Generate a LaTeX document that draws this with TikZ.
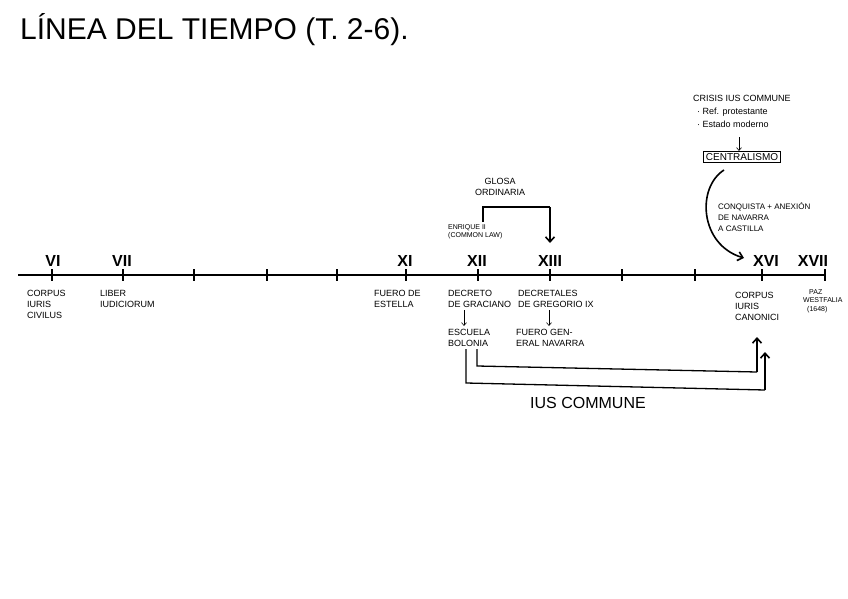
\documentclass[tikz,border=0pt]{standalone}
\usepackage{fontspec}
\setmainfont{Liberation Sans}
\usetikzlibrary{arrows.meta}
\begin{document}
\begin{tikzpicture}[x=1pt,y=-1pt,
  titletext/.style={font=\fontsize{30}{32}\selectfont, inner sep=0pt},
  cent/.style={font=\fontsize{16}{18}\selectfont\bfseries, inner sep=0pt},
  lab/.style={font=\fontsize{9}{11}\selectfont, inner sep=0pt, align=left, anchor=north west},
  small/.style={font=\fontsize{7}{8.5}\selectfont, inner sep=0pt, align=left, anchor=north west},
  axis/.style={line width=1.6pt},
  tickmark/.style={line width=1.2pt},
  conn/.style={line width=1.3pt},
  thinarrow/.style={line width=0.6pt,-{Straight Barb[length=3pt,width=5pt]}},
  bigarrow/.style={line width=1.6pt,-{Straight Barb[length=5pt,width=9pt]}}
]
\useasboundingbox (0,0) rectangle (848,599);

% title
\node[titletext, anchor=west] (title) at (20,30) {LÍNEA DEL TIEMPO (T. 2-6).};

% axis
\coordinate (ax0) at (18,275);
\coordinate (ax1) at (825,275);
\draw[axis] (ax0) -- (ax1);
\foreach \i/\x in {1/52,2/123,3/194,4/267,5/337,6/406,7/478,8/550,9/622,10/695,11/762,12/825}{
  \coordinate (t\i a) at (\x,269);
  \coordinate (t\i b) at (\x,281);
  \draw[tickmark] (t\i a) -- (t\i b);
}

% centuries
\node[cent] (c6) at (53,261) {VI};
\node[cent] (c7) at (122,261) {VII};
\node[cent] (c11) at (405,261) {XI};
\node[cent] (c12) at (477,261) {XII};
\node[cent] (c13) at (550,261) {XIII};
\node[cent] (c16) at (766,261) {XVI};
\node[cent] (c17) at (813,261) {XVII};

% labels below the axis
\node[lab] (corpusciv) at (27,290) {CORPUS\\IURIS\\CIVILUS};
\node[lab] (liber) at (100,290) {LIBER\\IUDICIORUM};
\node[lab] (estella) at (374,290) {FUERO DE\\ESTELLA};
\node[lab] (decreto) at (448,290) {DECRETO\\DE GRACIANO};
\node[lab] (escuela) at (448,329) {ESCUELA\\BOLONIA};
\node[lab] (decretales) at (518,290) {DECRETALES\\DE GREGORIO IX};
\node[lab] (fuerogen) at (516,329) {FUERO GEN-\\ERAL NAVARRA};
\node[lab] (corpuscan) at (735,292) {CORPUS\\IURIS\\CANONICI};
\node[small] (paz) at (803,289) {\hspace*{6pt}PAZ\\WESTFALIA\\\hspace*{4pt}(1648)};

\coordinate (d1) at (464,310);
\coordinate (d2) at (464,326);
\draw[thinarrow] (d1) -- (d2);
\coordinate (g1) at (549,310);
\coordinate (g2) at (549,326);
\draw[thinarrow] (g1) -- (g2);

% above the axis
\node[small] (enrique) at (448,224) {ENRIQUE II\\(COMMON LAW)};
\node[lab, align=center, anchor=center] (glosa) at (500,187) {GLOSA\\ORDINARIA};
\coordinate (gl1) at (483,222);
\coordinate (gl2) at (483,207);
\coordinate (gl3) at (550,207);
\coordinate (gl4) at (550,243);
\draw[conn] (gl1) -- (gl2) -- (gl3);
\draw[bigarrow] (gl3) -- (gl4);

% top right
\node[lab] (crisis) at (693,95) {CRISIS IUS COMMUNE\\[2pt]\hspace*{4pt}· Ref. protestante\\[2pt]\hspace*{4pt}· Estado moderno};
\coordinate (cr1) at (739,137);
\coordinate (cr2) at (739,151);
\draw[thinarrow] (cr1) -- (cr2);
\node[font=\fontsize{10}{12}\selectfont, draw, line width=0.8pt, inner xsep=2pt, inner ysep=2pt] (central) at (742,157) {CENTRALISMO};
\node[lab, font=\fontsize{8}{11}\selectfont] (conquista) at (718,202) {CONQUISTA + ANEXIÓN\\DE NAVARRA\\A CASTILLA};
\coordinate (cu1) at (724,170);
\coordinate (cu2) at (744,258);
\draw[bigarrow] (cu1) .. controls (696,188) and (700,245) .. (cu2);

% ius commune brackets
\coordinate (i1) at (477,349);
\coordinate (i2) at (477,366);
\coordinate (i3) at (757,372);
\coordinate (i4) at (757,337);
\draw[conn] (i1) -- (i2) -- (i3);
\draw[bigarrow] (i3) -- (i4);
\coordinate (o1) at (466,349);
\coordinate (o2) at (466,383);
\coordinate (o3) at (765,390);
\coordinate (o4) at (765,352);
\draw[conn] (o1) -- (o2) -- (o3);
\draw[bigarrow] (o3) -- (o4);
\node[font=\fontsize{16}{18}\selectfont, inner sep=0pt] (ius) at (588,403) {IUS COMMUNE};
\end{tikzpicture}
\end{document}
